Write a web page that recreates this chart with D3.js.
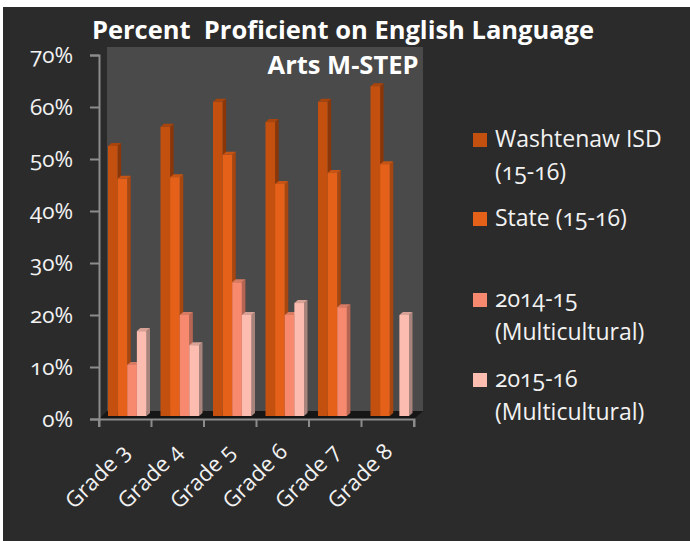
<!DOCTYPE html>
<html><head><meta charset="utf-8">
<script src="https://cdn.jsdelivr.net/npm/d3@7"></script>
<style>
html,body{margin:0;padding:0;background:#fff;}
svg{display:block;}
text{font-family:"Open Sans",sans-serif;font-variant-numeric:oldstyle-nums;font-feature-settings:"onum" 1;}
</style></head><body>
<svg id="c" width="690" height="541"></svg>
<script>
const grades = ["Grade 3","Grade 4","Grade 5","Grade 6","Grade 7","Grade 8"];
const seriesNames = ["Washtenaw ISD (15-16)","State (15-16)","2014-15 (Multicultural)","2015-16 (Multicultural)"];
const washtenaw = [52.5,56.2,61,57.1,61,64];
const state = [46.2,46.5,50.8,45.2,47.3,49];
const multi1415 = [10.4,20,26.3,20,21.5,null];
const multi1516 = [16.9,14.2,20,22.3,null,20];
const yTicks = [0,10,20,30,40,50,60,70];
const legendLines = [["Washtenaw ISD","(15-16)"],["State (15-16)"],["2014-15","(Multicultural)"],["2015-16","(Multicultural)"]];
const fronts = ["#c4500f","#e5611a","#f7896f","#fcbdb0"];
const sides = ["#8a3608","#a8460f","#b56552","#a8847c"];
const tops = ["#a8440c","#c85414","#d97a62","#d9a296"];

const svg = d3.select("#c");
svg.append("rect").attr("x",3).attr("y",7).attr("width",687).attr("height",534).attr("fill","#2b2b2b");

const x = d3.scaleBand().domain(grades).range([99,414]).padding(0);
const xi = d3.scaleBand().domain(d3.range(4)).range([9,47.5]).padding(0);
const y = d3.scaleLinear().domain([0,70]).range([419,55]);
const dx = 8, dy = -8; // wall depth
const bdx = 3.5, bdy = -3; // bar depth

// back wall
svg.append("rect").attr("x",x.range()[0]+dx).attr("y",y(70)+dy)
  .attr("width",x.range()[1]-x.range()[0]+1).attr("height",y(0)-y(70))
  .attr("fill","#4a4a4a");
// floor
const x0=x.range()[0], x1=x.range()[1];
svg.append("path").attr("d",`M${x0},${y(0)}L${x1},${y(0)}L${x1+dx+1},${y(0)+dy}L${x0+dx},${y(0)+dy}Z`).attr("fill","#161616");

const series = [washtenaw,state,multi1415,multi1516];
const yb = v => y(v)-3;
const g = svg.append("g");
grades.forEach((gr,gi)=>{
  series.forEach((arr,si)=>{
    const v = arr[gi];
    if(v==null) return;
    const bx = x(gr)+xi(si), w = xi.bandwidth();
    const top = yb(v)+3, base = yb(0);
    g.append("path").attr("d",`M${bx+w},${top}L${bx+w+bdx},${top+bdy}L${bx+w+bdx},${base+bdy}L${bx+w},${base}Z`).attr("fill",sides[si]);
    g.append("path").attr("d",`M${bx},${top}L${bx+w},${top}L${bx+w+bdx},${top+bdy}L${bx+bdx},${top+bdy}Z`).attr("fill",tops[si]);
    g.append("rect").attr("x",bx).attr("y",top).attr("width",w).attr("height",base-top).attr("fill",fronts[si]);
  });
});

// axes
const axisCol="#8c8c8c";
const yAxis = svg.append("g").attr("transform","translate(99,0)")
  .call(d3.axisLeft(y).tickValues(yTicks).tickSize(9).tickFormat(d=>d+"%"));
yAxis.select(".domain").attr("stroke",axisCol).attr("stroke-width",2);
yAxis.selectAll(".tick line").attr("stroke",axisCol).attr("stroke-width",2);
yAxis.selectAll(".tick text").attr("fill","#f2f2f2").attr("font-size",22.5).attr("x",-26).attr("dy","0.33em");

const xAxis = svg.append("g").attr("transform",`translate(0,${y(0)})`)
  .call(d3.axisBottom(x).tickSize(8).tickFormat(""));
xAxis.select(".domain").attr("stroke",axisCol).attr("stroke-width",2);
xAxis.selectAll(".tick line").attr("stroke",axisCol).attr("stroke-width",2)
  .attr("transform",`translate(${-x.bandwidth()/2},0)`);
svg.append("line").attr("x1",x1).attr("x2",x1).attr("y1",y(0)).attr("y2",y(0)+8).attr("stroke",axisCol).attr("stroke-width",2);

svg.append("g").selectAll("text").data(grades).join("text")
  .attr("transform",d=>`translate(${x(d)+x.bandwidth()/2+6},${y(0)+34}) rotate(-45)`)
  .attr("text-anchor","end").attr("fill","#f2f2f2").attr("font-size",22).text(d=>d);

// title
svg.append("text").attr("x",343).attr("y",39).attr("text-anchor","middle").attr("fill","#fff")
  .attr("font-size",25.5).attr("font-weight","bold").style("white-space","pre")
  .text("Percent  Proficient on English Language");
svg.append("text").attr("x",343).attr("y",74).attr("text-anchor","middle").attr("fill","#fff")
  .attr("font-size",25.5).attr("font-weight","bold").text("Arts M-STEP");

// legend
const legY = [133,212,293,373];
const leg = svg.append("g");
legendLines.forEach((lines,i)=>{
  leg.append("rect").attr("x",473).attr("y",legY[i]).attr("width",14).attr("height",14).attr("fill",fronts[i]);
  lines.forEach((t,j)=>{
    leg.append("text").attr("x",495).attr("y",legY[i]+14+j*33).attr("fill","#f2f2f2").attr("font-size",23).text(t);
  });
});
</script>
</body></html>
